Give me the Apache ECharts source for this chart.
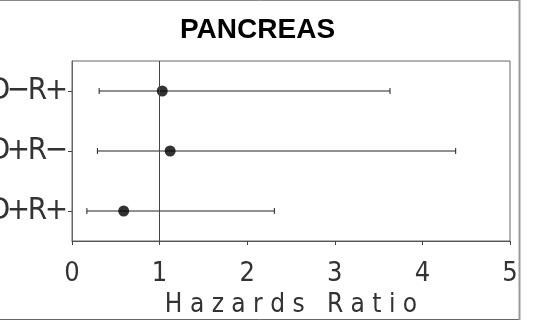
<!DOCTYPE html>
<html>
<head>
<meta charset="utf-8">
<script src="https://cdn.jsdelivr.net/npm/echarts@6/dist/echarts.min.js"></script>
<style>
  html, body { margin: 0; padding: 0; background: #fff; }
  #chart { width: 533px; height: 323px; }
</style>
</head>
<body>
<div id="chart"></div>
<script>
// Donor/recipient groups, hazard ratio and 95% confidence limits
const groups = ['D−R+', 'D+R−', 'D+R+'];
const hazardRatio = [1.03, 1.12, 0.59];
const lowerCI = [0.31, 0.29, 0.17];
const upperCI = [3.63, 4.38, 2.31];
const xTicks = [0, 1, 2, 3, 4, 5];

const thinFont = "'Liberation Sans Narrow', 'DejaVu Sans Condensed', 'Roboto Condensed', 'Liberation Sans', sans-serif";

const chart = echarts.init(document.getElementById('chart'), null, { renderer: 'canvas' });

const ciData = groups.map((g, i) => [i, lowerCI[i], upperCI[i]]);
const pointData = groups.map((g, i) => [hazardRatio[i], i]);

// group labels are set in evenly spaced character cells
const spacedLabel = (s) => Array.from(s).map((ch) => '{c|' + ch + '}').join('');

chart.setOption({
  backgroundColor: '#fff',
  animation: false,
  title: {
    text: 'PANCREAS',
    left: 175,
    top: 11,
    textStyle: { fontFamily: "'Liberation Sans', Arial, sans-serif", fontSize: 28, fontWeight: 'bold', color: '#000' }
  },
  grid: {
    left: 72, right: 23, top: 61, bottom: 82,
    containLabel: false,
    outerBoundsMode: 'none',
    show: true, borderColor: '#666', borderWidth: 1, backgroundColor: 'transparent'
  },
  xAxis: {
    type: 'value',
    min: xTicks[0],
    max: xTicks[xTicks.length - 1],
    interval: 1,
    name: 'H a z a r d s   R a t i o',
    nameLocation: 'middle',
    nameGap: 51,
    nameTextStyle: { fontFamily: thinFont, fontSize: 26, color: '#333' },
    axisLine: { show: true, lineStyle: { color: '#555', width: 1 } },
    axisTick: { show: true, inside: false, length: 4, lineStyle: { color: '#444' } },
    axisLabel: { fontFamily: thinFont, fontSize: 27, color: '#333', margin: 19 },
    splitLine: { show: false }
  },
  yAxis: {
    type: 'category',
    data: groups,
    inverse: true,
    axisLine: { show: true, lineStyle: { color: '#666', width: 1 } },
    axisTick: { show: true, alignWithLabel: true, length: 4, lineStyle: { color: '#444' } },
    axisLabel: {
      margin: 6,
      formatter: spacedLabel,
      rich: {
        c: { fontFamily: thinFont, fontSize: 31, color: '#333', width: 19, align: 'center' }
      }
    },
    splitLine: { show: false }
  },
  series: [
    {
      type: 'custom',
      data: ciData,
      encode: { x: [1, 2], y: 0 },
      renderItem: function (params, api) {
        const y = api.value(0);
        const p0 = api.coord([api.value(1), y]);
        const p1 = api.coord([api.value(2), y]);
        const cap = 3;
        const style = { stroke: '#222', lineWidth: 1 };
        return {
          type: 'group',
          children: [
            { type: 'line', shape: { x1: p0[0], y1: p0[1], x2: p1[0], y2: p1[1] }, style: style },
            { type: 'line', shape: { x1: p0[0], y1: p0[1] - cap, x2: p0[0], y2: p0[1] + cap }, style: style },
            { type: 'line', shape: { x1: p1[0], y1: p1[1] - cap, x2: p1[0], y2: p1[1] + cap }, style: style }
          ]
        };
      },
      markLine: {
        silent: true,
        symbol: 'none',
        label: { show: false },
        lineStyle: { color: '#444', width: 1, type: 'solid' },
        data: [{ xAxis: 1 }]
      },
      z: 2
    },
    {
      type: 'scatter',
      data: pointData,
      symbol: 'circle',
      symbolSize: 11,
      itemStyle: { color: '#000' },
      z: 3
    }
  ],
  graphic: [
    // outer figure frame
    { type: 'line', shape: { x1: 0, y1: 0.5, x2: 519, y2: 0.5 }, style: { stroke: '#888', lineWidth: 1 } },
    { type: 'line', shape: { x1: 0, y1: 319.5, x2: 519, y2: 319.5 }, style: { stroke: '#666', lineWidth: 1 } },
    { type: 'line', shape: { x1: 519.5, y1: 0, x2: 519.5, y2: 320 }, style: { stroke: '#999', lineWidth: 2 } }
  ]
});
</script>
</body>
</html>
